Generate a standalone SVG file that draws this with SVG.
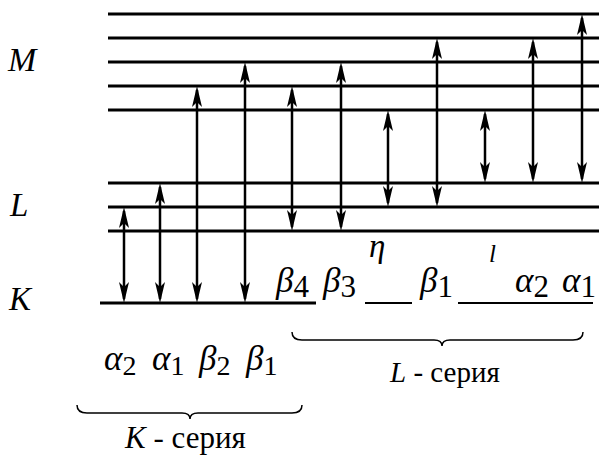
<svg xmlns="http://www.w3.org/2000/svg" width="599" height="456" viewBox="0 0 599 456">
<style>
.lvl{stroke:#000;stroke-width:3;fill:none}
.seg{stroke:#000;stroke-width:2;fill:none}
.arr{stroke:#000;stroke-width:2.5;fill:none;marker-start:url(#ah);marker-end:url(#ah)}
.brace{stroke:#000;stroke-width:1.5;fill:none}
.t{font-family:"Liberation Serif","Times New Roman","DejaVu Serif",serif;fill:#000}
.it{font-style:italic}
</style>
<defs>
<marker id="ah" markerUnits="userSpaceOnUse" viewBox="-20 -7 26 14" markerWidth="26" markerHeight="14" refX="0" refY="0" orient="auto-start-reverse" overflow="visible">
<path d="M4,0 L-17,-5 L-12,0 L-17,5 Z" fill="#000"/>
</marker>
</defs>
<g id="levels">
<g id="level-M">
<line class="lvl" x1="108" y1="14" x2="599" y2="14"/>
<line class="lvl" x1="108" y1="38" x2="599" y2="38"/>
<line class="lvl" x1="108" y1="62" x2="599" y2="62"/>
<line class="lvl" x1="108" y1="86" x2="599" y2="86"/>
<line class="lvl" x1="108" y1="110" x2="599" y2="110"/>
</g>
<g id="level-L">
<line class="lvl" x1="108" y1="183" x2="599" y2="183"/>
<line class="lvl" x1="108" y1="207" x2="599" y2="207"/>
<line class="lvl" x1="108" y1="231" x2="599" y2="231"/>
</g>
<g id="level-K">
<line class="lvl" x1="100" y1="303" x2="316" y2="303"/>
<line class="seg" x1="365" y1="303" x2="412" y2="303"/>
<line class="seg" x1="458" y1="303" x2="593" y2="303"/>
</g>
</g>
<g id="shell-labels">
<text id="label-M" class="t it" x="8" y="71" font-size="34">M</text>
<text id="label-L" class="t it" x="10" y="216" font-size="33">L</text>
<text id="label-K" class="t it" x="9" y="310" font-size="33">K</text>
</g>
<g id="connectors">
<line class="arr" x1="124" y1="211" x2="124" y2="299"/>
<line class="arr" x1="160" y1="187" x2="160" y2="299"/>
<line class="arr" x1="197" y1="90" x2="197" y2="299"/>
<line class="arr" x1="245" y1="66" x2="245" y2="299"/>
<line class="arr" x1="292" y1="90" x2="292" y2="227"/>
<line class="arr" x1="341" y1="66" x2="341" y2="227"/>
<line class="arr" x1="388" y1="114" x2="388" y2="203"/>
<line class="arr" x1="437" y1="42" x2="437" y2="203"/>
<line class="arr" x1="485" y1="114" x2="485" y2="179"/>
<line class="arr" x1="533" y1="42" x2="533" y2="179"/>
<line class="arr" x1="582" y1="18" x2="582" y2="179"/>
</g>
<g id="K-series-labels">
<text class="t" x="104" y="370" font-size="35"><tspan class="it">α</tspan><tspan font-size="28" dy="5">2</tspan></text>
<text class="t" x="152" y="370" font-size="35"><tspan class="it">α</tspan><tspan font-size="28" dy="5">1</tspan></text>
<text class="t" x="199" y="370" font-size="35"><tspan class="it">β</tspan><tspan font-size="28" dy="5">2</tspan></text>
<text class="t" x="246" y="370" font-size="35"><tspan class="it">β</tspan><tspan font-size="28" dy="5">1</tspan></text>
</g>
<g id="L-series-labels">
<text class="t" x="276" y="292" font-size="35"><tspan class="it">β</tspan><tspan font-size="31" dy="5">4</tspan></text>
<text class="t" x="323" y="292" font-size="35"><tspan class="it">β</tspan><tspan font-size="31" dy="5">3</tspan></text>
<text class="t it" x="369" y="257" font-size="33">η</text>
<text class="t" x="420" y="292" font-size="35"><tspan class="it">β</tspan><tspan font-size="31" dy="5">1</tspan></text>
<text class="t it" x="489" y="262" font-size="25">l</text>
<text class="t" x="515" y="292" font-size="35"><tspan class="it">α</tspan><tspan font-size="31" dy="5">2</tspan></text>
<text class="t" x="562" y="292" font-size="35"><tspan class="it">α</tspan><tspan font-size="31" dy="5">1</tspan></text>
</g>
<g id="K-series">
<path class="brace" d="M77,405 Q77,413 87,413 L182,413 Q190,413 190,419 Q190,413 198,413 L292,413 Q302,413 302,405"/>
<text class="t" x="125" y="448" font-size="31"><tspan class="it">K</tspan> - серия</text>
</g>
<g id="L-series">
<path class="brace" d="M292,332 Q292,340 302,340 L434,340 Q442,340 442,346 Q442,340 450,340 L573,340 Q583,340 583,332"/>
<text class="t" x="390" y="382" font-size="29"><tspan class="it">L</tspan> - серия</text>
</g>
</svg>
